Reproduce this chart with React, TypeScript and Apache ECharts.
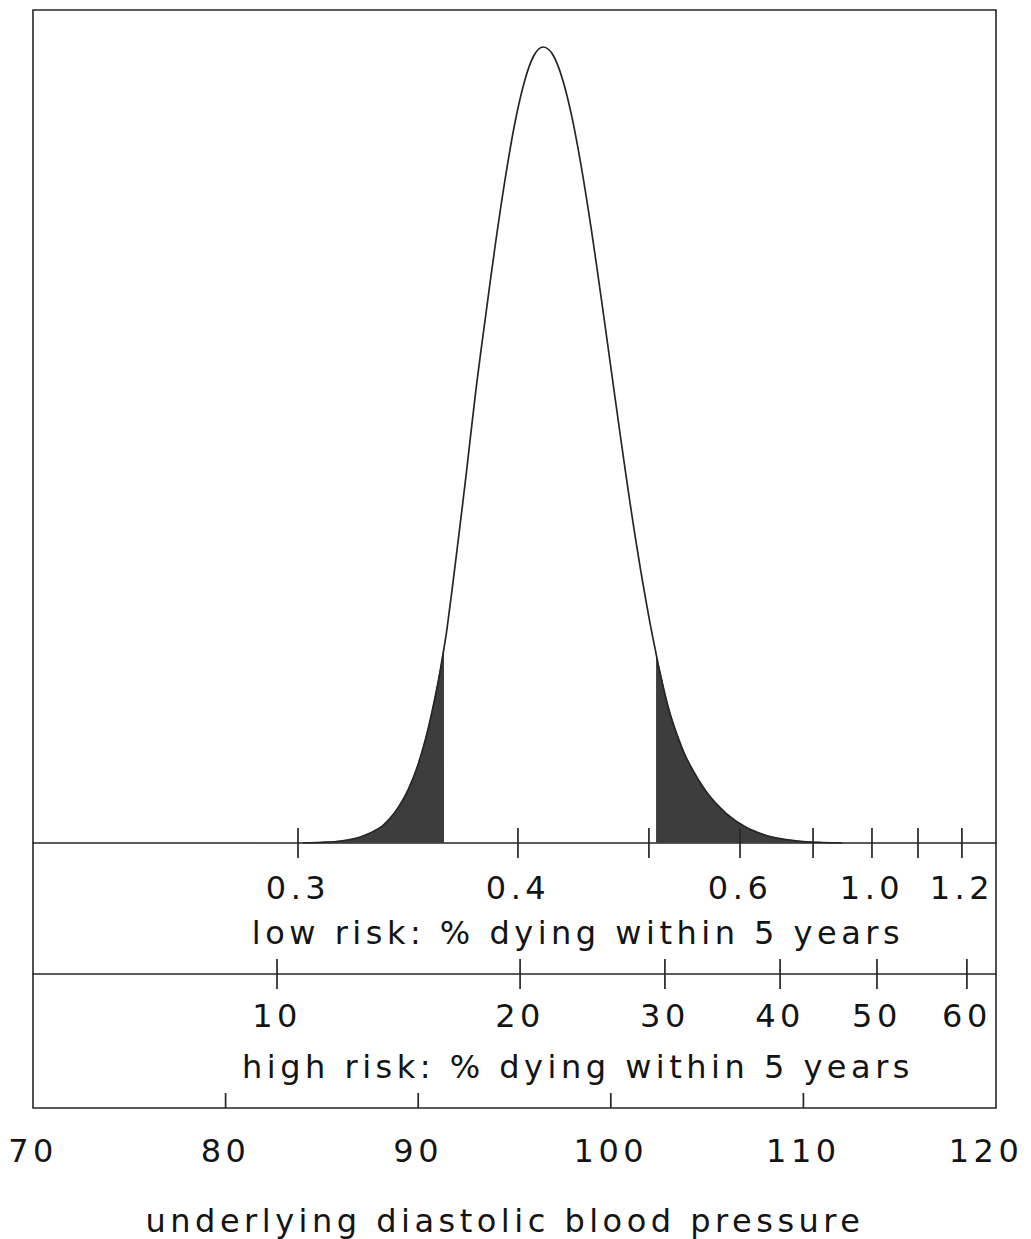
import React, { useEffect, useRef } from 'react';
import * as echarts from 'echarts';

// underlying diastolic blood pressure axis
const bpMin = 70;
const bpMax = 120;
const bpTicks = [70, 80, 90, 100, 110, 120];

// distribution curve (height as % of the peak)
const curveBP = [84, 85, 86, 87, 88, 88.5, 89, 89.5, 90, 90.5, 91, 91.34, 91.5, 92, 92.5, 93, 93.5, 94, 94.5, 95, 95.5, 96, 96.5, 97, 97.5, 98, 98.5, 99, 99.5, 100, 100.5, 101, 101.5, 102, 102.35, 102.5, 103, 103.5, 104, 105, 106, 107, 108, 109, 110, 111, 112];
const curveHeight = [0, 0.08, 0.25, 0.75, 1.9, 3.0, 4.6, 6.8, 9.9, 14.2, 19.8, 24.5, 27.0, 36.5, 46.5, 57.0, 66.2, 75.1, 83.2, 90.2, 95.5, 98.9, 100, 99.0, 95.9, 91.0, 84.5, 76.9, 68.5, 59.8, 51.1, 42.7, 35.0, 28.1, 23.8, 22.0, 16.9, 13.2, 10.3, 6.3, 3.7, 2.0, 1.0, 0.45, 0.18, 0.06, 0];

// shaded tails
const lowShadeEndBP = 91.34;
const highShadeStartBP = 102.35;

// low risk scale: tick positions (in BP) and labels
const lowRiskTickBP = [83.76, 95.18, 101.98, 106.71, 110.5, 113.56, 115.95, 118.23];
const lowRiskLabels = ['0.3', '0.4', '', '0.6', '', '1.0', '', '1.2'];

// high risk scale: tick positions (in BP) and labels
const highRiskTickBP = [82.67, 95.29, 102.81, 108.79, 113.82, 118.49];
const highRiskLabels = ['10', '20', '30', '40', '50', '60'];

const lowRiskTitle = 'low risk: % dying within 5 years';
const highRiskTitle = 'high risk: % dying within 5 years';
const bpTitle = 'underlying diastolic blood pressure';

const FONT = 'DejaVu Sans';
const FS = 32;
const INK = '#141414';
const LINE = '#262626';

export default function App() {
  const ref = useRef<HTMLDivElement>(null);

  useEffect(() => {
    if (!ref.current) return;
    const chart = echarts.init(ref.current, undefined, { renderer: 'svg' });

    const curveData = curveBP.map((x, i) => [x, curveHeight[i]]);
    const leftTail = curveData.filter((p) => p[0] <= lowShadeEndBP);
    const rightTail = curveData.filter((p) => p[0] >= highShadeStartBP);

    const hiddenY = { type: 'value', show: false, min: 0, max: 1 };
    const scaleAxis = (gridIndex: number, showLine: boolean) => ({
      gridIndex,
      type: 'value',
      min: bpMin,
      max: bpMax,
      axisLine: { show: showLine, onZero: false, lineStyle: { color: LINE, width: 1.6 } },
      axisTick: { show: false },
      axisLabel: { show: false },
      splitLine: { show: false },
    });

    const labelStyle = {
      show: true,
      position: 'bottom',
      formatter: '{b}',
      fontSize: FS,
      fontFamily: FONT,
      color: INK,
      opacity: 1,
    };

    // ticks crossing a scale line (half above, half below) with labels underneath
    const tickSeries = (axisIndex: number, bps: number[], labels: string[], distance: number) => ({
      type: 'scatter',
      xAxisIndex: axisIndex,
      yAxisIndex: axisIndex,
      data: bps.map((v, i) => ({ value: [v, 0], name: labels[i] })),
      symbol: 'rect',
      symbolSize: [1.7, 30],
      itemStyle: { color: LINE, opacity: 1 },
      clip: false,
      silent: true,
      z: 4,
      label: { ...labelStyle, distance },
    });

    const option: any = {
      animation: false,
      backgroundColor: '#ffffff',
      textStyle: { fontFamily: FONT },
      grid: [
        { left: 33, right: 35, top: 10, height: 833, show: false },
        { left: 33, right: 35, top: 843, height: 131, show: false },
        {
          left: 33,
          right: 35,
          top: 10,
          height: 1098,
          show: true,
          borderColor: LINE,
          borderWidth: 1.6,
          backgroundColor: 'transparent',
        },
      ],
      xAxis: [scaleAxis(0, true), scaleAxis(1, true), scaleAxis(2, false)],
      yAxis: [
        { gridIndex: 0, type: 'value', show: false, min: 0, max: 104.65 },
        { ...hiddenY, gridIndex: 1 },
        { ...hiddenY, gridIndex: 2 },
      ],
      series: [
        {
          type: 'line',
          xAxisIndex: 0,
          yAxisIndex: 0,
          data: leftTail,
          smooth: 0.35,
          showSymbol: false,
          silent: true,
          lineStyle: { color: '#333', width: 1 },
          areaStyle: { color: '#3d3d3d', opacity: 1 },
          z: 2,
        },
        {
          type: 'line',
          xAxisIndex: 0,
          yAxisIndex: 0,
          data: rightTail,
          smooth: 0.35,
          showSymbol: false,
          silent: true,
          lineStyle: { color: '#333', width: 1 },
          areaStyle: { color: '#3d3d3d', opacity: 1 },
          z: 2,
        },
        {
          type: 'line',
          xAxisIndex: 0,
          yAxisIndex: 0,
          data: curveData,
          smooth: 0.35,
          showSymbol: false,
          silent: true,
          lineStyle: { color: LINE, width: 1.7 },
          z: 3,
        },
        tickSeries(0, lowRiskTickBP, lowRiskLabels, 14),
        tickSeries(1, highRiskTickBP, highRiskLabels, 11),
        // blood pressure axis: inward ticks on the bottom of the frame
        {
          type: 'scatter',
          xAxisIndex: 2,
          yAxisIndex: 2,
          data: bpTicks.filter((v) => v > bpMin && v < bpMax).map((v) => [v, 0]),
          symbol: 'rect',
          symbolSize: [1.7, 15],
          symbolOffset: [0, -7.5],
          itemStyle: { color: LINE, opacity: 1 },
          clip: false,
          silent: true,
          z: 4,
        },
        // blood pressure axis labels
        {
          type: 'scatter',
          xAxisIndex: 2,
          yAxisIndex: 2,
          data: bpTicks.map((v) => ({
            value: [v, 0],
            name: String(v),
            label: v === bpMax ? { offset: [-10, 0] } : undefined,
          })),
          symbol: 'rect',
          symbolSize: 0,
          itemStyle: { color: 'transparent', opacity: 1 },
          clip: false,
          silent: true,
          z: 4,
          label: { ...labelStyle, distance: 27 },
        },
      ],
      graphic: [
        {
          type: 'text',
          x: 578,
          y: 933,
          silent: true,
          style: { text: lowRiskTitle, fontSize: FS, fontFamily: FONT, fill: INK, align: 'center', verticalAlign: 'middle' },
        },
        {
          type: 'text',
          x: 578,
          y: 1067,
          silent: true,
          style: { text: highRiskTitle, fontSize: FS, fontFamily: FONT, fill: INK, align: 'center', verticalAlign: 'middle' },
        },
        {
          type: 'text',
          x: 505,
          y: 1221,
          silent: true,
          style: { text: bpTitle, fontSize: FS, fontFamily: FONT, fill: INK, align: 'center', verticalAlign: 'middle' },
        },
      ],
    };

    chart.setOption(option);
    return () => chart.dispose();
  }, []);

  return (
    <div
      ref={ref}
      style={{
        position: 'absolute',
        left: 0,
        top: 0,
        width: 1031,
        height: 1239,
        letterSpacing: '4.5px',
      }}
    />
  );
}
